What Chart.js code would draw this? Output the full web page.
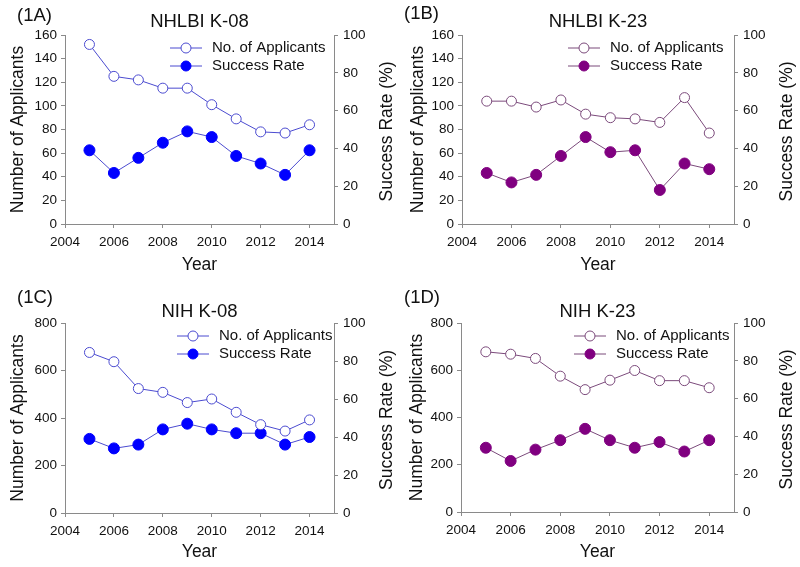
<!DOCTYPE html>
<html>
<head>
<meta charset="utf-8">
<script src="https://cdn.jsdelivr.net/npm/chart.js@4.4.0/dist/chart.umd.min.js"></script>
<style>
    body { margin: 0; background: #fff; }
    .panel { position: absolute; }
</style>
</head>
<body>
<div class="panel" style="left:0;top:0;width:400px;height:280px"><canvas id="chartA"></canvas></div>
<div class="panel" style="left:400px;top:0;width:400px;height:280px"><canvas id="chartB"></canvas></div>
<div class="panel" style="left:0;top:280px;width:400px;height:287px"><canvas id="chartC"></canvas></div>
<div class="panel" style="left:400px;top:280px;width:400px;height:287px"><canvas id="chartD"></canvas></div>
<script>
const years = [2005, 2006, 2007, 2008, 2009, 2010, 2011, 2012, 2013, 2014];
const yearTicks = [2004, 2006, 2008, 2010, 2012, 2014];
const rateTicks = [0, 20, 40, 60, 80, 100];

const applicantsNhlbiK08 = [152, 125, 122, 115, 115, 101, 89, 78, 77, 84];
const rateNhlbiK08 = [39, 27, 35, 43, 49, 46, 36, 32, 26, 39];

const applicantsNhlbiK23 = [104, 104, 99, 105, 93, 90, 89, 86, 107, 77];
const rateNhlbiK23 = [27, 22, 26, 36, 46, 38, 39, 18, 32, 29];

const applicantsNihK08 = [676, 637, 524, 508, 465, 480, 424, 372, 345, 392];
const rateNihK08 = [39, 34, 36, 44, 47, 44, 42, 42, 36, 40];

const applicantsNihK23 = [678, 668, 650, 575, 518, 558, 599, 556, 556, 526];
const rateNihK23 = [34, 27, 33, 38, 44, 38, 34, 37, 32, 38];

const FONT = "'Liberation Sans', Arial, sans-serif";
const AXIS_COLOR = "#8a8a8a";

// titre, étiquette du panneau, titre de l'axe droit et légende
const decorPlugin = {
    id: "decor",
    afterDraw(chart, args, opts) {
        const ctx = chart.ctx;
        const area = chart.chartArea;
        ctx.save();
        ctx.fillStyle = "#111";
        ctx.textBaseline = "middle";
        ctx.font = "18.5px " + FONT;
        ctx.textAlign = "left";
        ctx.fillText(opts.tag, opts.tagX, opts.tagY);
        ctx.textAlign = "center";
        ctx.fillText(opts.title, (area.left + area.right) / 2, opts.titleY);

        // titre de l'axe droit, lu de bas en haut
        ctx.save();
        ctx.font = "17.5px " + FONT;
        ctx.translate(area.right + 53, (area.top + area.bottom) / 2 + 2);
        ctx.rotate(-Math.PI / 2);
        ctx.fillText("Success Rate (%)", 0, 0);
        ctx.restore();

        // légende
        ctx.font = "15px " + FONT;
        ctx.textAlign = "left";
        const textX = area.right - opts.legendRight;
        chart.data.datasets.forEach((ds, i) => {
            const y = area.top + 13 + i * 18;
            const x0 = textX - 42;
            const x1 = textX - 10;
            ctx.strokeStyle = ds.borderColor;
            ctx.lineWidth = 1;
            ctx.beginPath();
            ctx.moveTo(x0, y);
            ctx.lineTo(x1, y);
            ctx.stroke();
            ctx.beginPath();
            ctx.arc((x0 + x1) / 2, y, 5, 0, Math.PI * 2);
            ctx.fillStyle = ds.pointBackgroundColor;
            ctx.fill();
            ctx.strokeStyle = ds.pointBorderColor;
            ctx.stroke();
            ctx.fillStyle = "#111";
            ctx.fillText(ds.label, textX, y);
        });
        ctx.restore();
    }
};

function makeChart(id, cfg) {
    const fitWidth = w => scale => { scale.width = w; };
    const tickFont = { family: FONT, size: 13.5 };
    const titleFont = { family: FONT, size: 17.5 };

    return new Chart(document.getElementById(id), {
        type: "line",
        data: {
            datasets: [
                {
                    label: "No. of Applicants",
                    data: years.map((y, i) => ({ x: y, y: cfg.applicants[i] })),
                    yAxisID: "y",
                    borderColor: cfg.lineColor,
                    borderWidth: 1,
                    pointRadius: 5,
                    pointBackgroundColor: "#fff",
                    pointBorderColor: cfg.lineColor,
                    pointBorderWidth: 1,
                },
                {
                    label: "Success Rate",
                    data: years.map((y, i) => ({ x: y, y: cfg.rate[i] })),
                    yAxisID: "y1",
                    borderColor: cfg.lineColor,
                    borderWidth: 1,
                    pointRadius: 5.5,
                    pointBackgroundColor: cfg.markColor,
                    pointBorderColor: cfg.markColor,
                    pointBorderWidth: 1,
                },
            ],
        },
        options: {
            responsive: true,
            maintainAspectRatio: false,
            animation: false,
            layout: { padding: { top: cfg.top, left: 0, right: 0, bottom: 0 } },
            plugins: {
                legend: { display: false },
                tooltip: { enabled: false },
                decor: cfg.decor,
            },
            scales: {
                x: {
                    type: "linear",
                    min: 2004,
                    max: 2015,
                    afterBuildTicks: scale => { scale.ticks = yearTicks.map(v => ({ value: v })); },
                    afterFit: scale => { scale.height = cfg.xHeight; },
                    grid: { drawOnChartArea: false, tickLength: 4, color: AXIS_COLOR },
                    border: { color: AXIS_COLOR },
                    ticks: { font: tickFont, color: "#111", padding: 6, maxRotation: 0, callback: v => String(v) },
                    title: { display: true, text: "Year", font: titleFont, color: "#111", padding: { top: 5 } },
                },
                y: {
                    position: "left",
                    min: 0,
                    max: cfg.yMax,
                    ticks: { stepSize: cfg.yStep, font: tickFont, color: "#111", padding: 4 },
                    afterFit: fitWidth(cfg.leftWidth),
                    grid: { drawOnChartArea: false, tickLength: 4, color: AXIS_COLOR },
                    border: { color: AXIS_COLOR },
                    title: { display: true, text: "Number of Applicants", font: titleFont, color: "#111", padding: { top: cfg.titlePad, bottom: 0 } },
                },
                y1: {
                    position: "right",
                    min: 0,
                    max: 100,
                    afterBuildTicks: scale => { scale.ticks = rateTicks.map(v => ({ value: v })); },
                    ticks: { font: tickFont, color: "#111", padding: 5 },
                    afterFit: fitWidth(400 - cfg.right),
                    grid: { drawOnChartArea: false, tickLength: 4, color: AXIS_COLOR },
                    border: { color: AXIS_COLOR },
                    title: { display: false },
                },
            },
        },
        plugins: [decorPlugin],
    });
}

makeChart("chartA", {
    applicants: applicantsNhlbiK08, rate: rateNhlbiK08,
    lineColor: "#4b4bd0", markColor: "#0000ff",
    yMax: 160, yStep: 20, top: 35, xHeight: 56, leftWidth: 65, right: 334, titlePad: 8,
    decor: { tag: "(1A)", tagX: 17, tagY: 16, title: "NHLBI K-08", titleY: 22, legendRight: 122 },
});
makeChart("chartB", {
    applicants: applicantsNhlbiK23, rate: rateNhlbiK23,
    lineColor: "#7b4a7b", markColor: "#800080",
    yMax: 160, yStep: 20, top: 35, xHeight: 56, leftWidth: 62, right: 334, titlePad: 8,
    decor: { tag: "(1B)", tagX: 4, tagY: 14, title: "NHLBI K-23", titleY: 22, legendRight: 124 },
});
makeChart("chartC", {
    applicants: applicantsNihK08, rate: rateNihK08,
    lineColor: "#4b4bd0", markColor: "#0000ff",
    yMax: 800, yStep: 200, top: 43, xHeight: 54, leftWidth: 65, right: 334, titlePad: 8,
    decor: { tag: "(1C)", tagX: 17, tagY: 18, title: "NIH K-08", titleY: 32, legendRight: 115 },
});
makeChart("chartD", {
    applicants: applicantsNihK23, rate: rateNihK23,
    lineColor: "#7b4a7b", markColor: "#800080",
    yMax: 800, yStep: 200, top: 43, xHeight: 55, leftWidth: 61, right: 334, titlePad: 7,
    decor: { tag: "(1D)", tagX: 4, tagY: 18, title: "NIH K-23", titleY: 32, legendRight: 118 },
});
</script>
</body>
</html>
